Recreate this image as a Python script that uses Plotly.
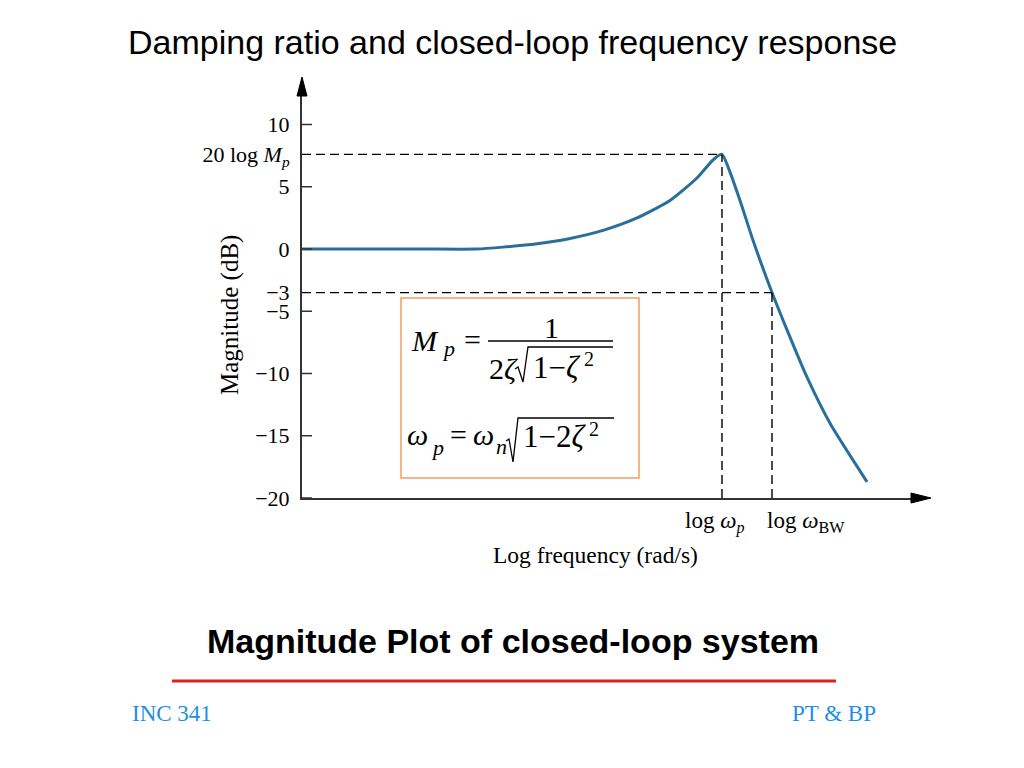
import plotly.graph_objects as go

# ---------------- data ----------------
log_freq = [0.0, 0.6, 1.2, 1.75, 2.01, 2.35, 2.68, 3.01, 3.35, 3.68, 3.95, 4.11, 4.2,
            4.26, 4.38, 4.51, 4.7, 4.85, 5.05, 5.28, 5.65]
mag_db = [0.0, 0.0, 0.0, 0.0, 0.15, 0.42, 0.85, 1.5, 2.5, 3.9, 5.7, 7.15, 7.6,
          6.6, 3.9, 0.7, -3.5, -6.5, -10.3, -14.0, -18.7]
bw_label_db = -3.5          # the "-3 dB" crossing as drawn
y_tick_vals = [10, 7.6, 5, 0, -3.5, -5, -10, -15, -20]
y_tick_text = ["10", "20 log <i>M</i><sub><i>p</i></sub>", "5", "0", "\u22123", "\u22125",
               "\u221210", "\u221215", "\u221220"]
y_minor_ticks = [10, 5, 0, -5, -10, -15, -20]

# ---------------- layout helpers (screen pixels -> paper) ----------------
OFF = 8                      # page body margin
W, H = 1008, 752
L, R, T, B = 294, 104, 87, 262
PW, PH = W - L - R, H - T - B


def xp(X):
    return (X - OFF - L) / PW


def yp(Y):
    return (H - B - (Y - OFF)) / PH


SERIF = "Liberation Serif, Times New Roman, serif"
SANS = "Liberation Sans, Arial, sans-serif"

peak_i = max(range(len(mag_db)), key=lambda i: mag_db[i])
peak_x, peak_y = log_freq[peak_i], mag_db[peak_i]
bw_i = mag_db.index(bw_label_db)
bw_x = log_freq[bw_i]

fig = go.Figure()
fig.add_trace(go.Scatter(x=log_freq, y=mag_db, mode="lines",
                         line=dict(color="#2A6F9C", width=3, shape="spline", smoothing=0.6),
                         hoverinfo="skip", showlegend=False))

shapes = []
dash = dict(color="black", width=1.4, dash="9px,5px")
shapes.append(dict(type="line", xref="x", yref="y", x0=0, x1=peak_x, y0=peak_y, y1=peak_y, line=dash))
shapes.append(dict(type="line", xref="x", yref="y", x0=peak_x, x1=peak_x, y0=-20, y1=peak_y, line=dash))
shapes.append(dict(type="line", xref="x", yref="y", x0=0, x1=bw_x, y0=bw_label_db, y1=bw_label_db, line=dash))
shapes.append(dict(type="line", xref="x", yref="y", x0=bw_x, x1=bw_x, y0=-20, y1=bw_label_db, line=dash))

# axis arrowheads
shapes.append(dict(type="path", xref="paper", yref="paper",
                   path=f"M {xp(297)} {yp(96)} L {xp(302)} {yp(77)} L {xp(307)} {yp(96)} Z",
                   fillcolor="black", line=dict(color="black", width=1)))
shapes.append(dict(type="path", xref="paper", yref="paper",
                   path=f"M {xp(911)} {yp(493)} L {xp(931)} {yp(498)} L {xp(911)} {yp(503)} Z",
                   fillcolor="black", line=dict(color="black", width=1)))

# formula box
shapes.append(dict(type="rect", xref="paper", yref="paper",
                   x0=xp(401), x1=xp(639), y0=yp(478), y1=yp(298),
                   line=dict(color="#F0A060", width=1.5), fillcolor="white", layer="below"))
# fraction bar
shapes.append(dict(type="line", xref="paper", yref="paper", x0=xp(488), x1=xp(613),
                   y0=yp(341), y1=yp(341), line=dict(color="black", width=1.3)))
# radicals
shapes.append(dict(type="path", xref="paper", yref="paper",
                   path=(f"M {xp(515)} {yp(369)} L {xp(518)} {yp(367)} L {xp(523)} {yp(382)} "
                         f"L {xp(528)} {yp(347)} L {xp(613)} {yp(347)}"),
                   line=dict(color="black", width=1.3)))
shapes.append(dict(type="path", xref="paper", yref="paper",
                   path=(f"M {xp(506)} {yp(441)} L {xp(509)} {yp(439)} L {xp(513)} {yp(462)} "
                         f"L {xp(518)} {yp(418)} L {xp(614)} {yp(418)}"),
                   line=dict(color="black", width=1.3)))
# footer red rule
shapes.append(dict(type="line", xref="paper", yref="paper", x0=xp(172), x1=xp(836),
                   y0=yp(681), y1=yp(681), line=dict(color="#E0201C", width=3)))

ann = []


def txt(text, X, Y, size, family=SERIF, color="black", xanchor="center", yanchor="middle", textangle=0):
    ann.append(dict(text=text, x=xp(X), y=yp(Y), xref="paper", yref="paper", showarrow=False,
                    font=dict(size=size, family=family, color=color),
                    xanchor=xanchor, yanchor=yanchor, textangle=textangle))


txt("Damping ratio and closed-loop frequency response", 512, 42, 34, SANS)
txt("<b>Magnitude Plot of closed-loop system</b>", 513, 641, 34, SANS)
txt("INC 341", 130, 713, 23, SERIF, "#1E8FE6", xanchor="left")
txt("PT &amp; BP", 878, 713, 23, SERIF, "#1E8FE6", xanchor="right")
txt("Magnitude (dB)", 230, 315, 25, textangle=-90)
txt("Log frequency (rad/s)", 595, 555, 23.5)

# x-axis labels (at data positions)
ann.append(dict(text="log <i>\u03c9</i><sub><i>p</i></sub>", x=peak_x, y=yp(522), xref="x", yref="paper",
                showarrow=False, xanchor="center", yanchor="middle", xshift=-8,
                font=dict(size=23, family=SERIF, color="black")))
ann.append(dict(text="log <i>\u03c9</i><sub>BW</sub>", x=bw_x, y=yp(522), xref="x", yref="paper",
                showarrow=False, xanchor="left", yanchor="middle", xshift=-7,
                font=dict(size=23, family=SERIF, color="black")))

# formula 1
txt("<i>M</i>", 425, 340, 30)
txt("<i>p</i>", 448, 348, 22)
txt("=", 472, 339, 30)
txt("1", 551, 327, 30)
txt("2<i>\u03b6</i>", 503, 368, 30)
txt("1\u2212<i>\u03b6</i>", 531, 367, 31, xanchor="left")
txt("2", 589, 359, 20)
# formula 2
txt("<i>\u03c9</i>", 417, 434, 30)
txt("<i>p</i>", 437, 447, 22)
txt("=", 458, 434, 30)
txt("<i>\u03c9</i>", 483, 434, 30)
txt("<i>n</i>", 501, 446, 22)
txt("1\u22122<i>\u03b6</i>", 521, 436, 31, xanchor="left")
txt("2", 594, 429, 20)

fig.update_layout(
    width=W, height=H, margin=dict(l=L, r=R, t=T, b=B, autoexpand=False),
    paper_bgcolor="white", plot_bgcolor="white",
    shapes=shapes, annotations=ann, showlegend=False,
    xaxis=dict(range=[0, PW / 100], showgrid=False, zeroline=False, showticklabels=False,
               ticks="", showline=True, linecolor="#333333", linewidth=2, fixedrange=True),
    yaxis=dict(range=[-20, -20 + PH / 12.45], showgrid=False, zeroline=False,
               tickvals=y_tick_vals, ticktext=y_tick_text, ticks="inside", ticklen=0,
               tickfont=dict(size=22, family=SERIF, color="black"),
               showline=True, linecolor="#333333", linewidth=2, fixedrange=True,
               ticklabelstandoff=6),
)
for v in y_minor_ticks:
    fig.add_shape(type="line", xref="paper", yref="y", x0=0, x1=xp(312), y0=v, y1=v,
                  line=dict(color="#333333", width=1.5))

fig.write_html("out.html", config={"displayModeBar": False})
